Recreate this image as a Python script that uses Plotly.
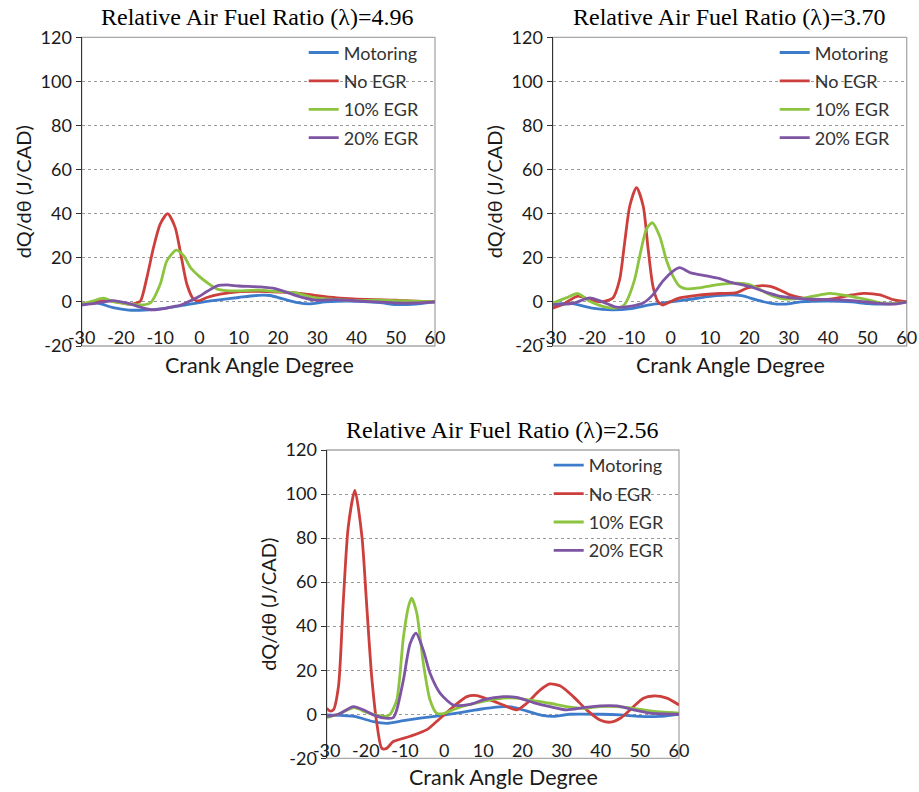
import plotly.graph_objects as go

W, H = 919, 792

SERIES = ["Motoring", "No EGR", "10% EGR", "20% EGR"]
COLORS = ["#3E7CCB", "#CC3F3C", "#8CC43F", "#7E55A5"]
TITLES = ["Relative Air Fuel Ratio (λ)=4.96",
          "Relative Air Fuel Ratio (λ)=3.70",
          "Relative Air Fuel Ratio (λ)=2.56"]
X_TICKS = [-30, -20, -10, 0, 10, 20, 30, 40, 50, 60]
X_TICK_LABELS = ["-30", "-20", "-10", "0", "10", "20", "30", "40", "50", "60"]
Y_TICKS = [-20, 0, 20, 40, 60, 80, 100, 120]
Y_TICK_LABELS = ["-20", "0", "20", "40", "60", "80", "100", "120"]

# ---- Panel 1 : lambda = 4.96 ----
P1_MOT_X = [-30, -26, -22, -18, -14, -10, -5, 0, 5, 10, 15, 18, 21, 25, 28, 32, 38, 46, 50, 55, 60]
P1_MOT_Y = [-1, -0.6, -2.6, -3.7, -3.7, -3.2, -1.8, -0.3, 0.9, 2.0, 3.0, 2.9, 1.5, -0.3, -0.9, 0, 0.4, -0.3, -1.2, -1, 0]
P1_NO_X = [-30, -27, -24, -21, -18, -16, -15, -13.4, -11.7, -10, -8.1, -6.2, -4.9, -3.2, -1.5, -0.2, 1.9, 5.3, 10.4, 15, 20, 25, 30, 35, 40, 45, 50, 55, 60]
P1_NO_Y = [-1, -0.2, 0.6, 0, -1, -0.5, 0.5, 11, 24.7, 35.3, 40, 33.8, 23, 8, 1.2, 0.5, 2, 3.5, 4.7, 4.8, 4.5, 4, 2.8, 1.8, 1.3, 1, 0.8, 0.3, 0]
P1_10_X = [-30, -27, -24.4, -22, -18.4, -15, -12.5, -10, -8.3, -5.9, -4, -2.3, -0.2, 1.9, 4.5, 7.8, 15, 19.3, 24.4, 29.5, 34.6, 40, 45, 50, 55, 60]
P1_10_Y = [-1, 0.5, 1.7, 0.1, -0.9, -1.4, -0.5, 8, 18.6, 23.5, 20.9, 15.6, 11.8, 8.8, 5.8, 5, 5.3, 4.8, 4.1, 1.8, 1.1, 0.6, 0.8, 0.6, 0.3, 0]
P1_20_X = [-30, -25.3, -22, -18.4, -15, -12, -9, -6.6, -4.9, -1.5, 0, 2, 4.5, 7, 10, 15.5, 19.3, 24.4, 29.5, 34.6, 40, 45, 50, 55, 60]
P1_20_Y = [-1.4, -0.3, 0.6, -0.6, -2.4, -3.6, -3, -2.1, -1.5, 1.2, 2.6, 4.8, 7.3, 7.7, 7.2, 6.8, 6, 3, 0.8, 1, 0.5, 0, -0.5, -0.5, 0]

# ---- Panel 2 : lambda = 3.70 ----
P2_MOT_X = [-30, -25, -20, -15, -10, -5, 0, 5, 10, 15, 18, 22, 26, 29, 33, 40, 46, 50, 55, 60]
P2_MOT_Y = [-1, -0.8, -2.8, -3.6, -3, -1.2, 0, 1.2, 2.5, 3.2, 2.8, 0.8, -0.8, -1, 0, 0.4, 0, -0.8, -1, 0]
P2_NO_X = [-30, -27.5, -23.6, -20.6, -18, -16.4, -14.7, -13, -11.7, -10.4, -8.7, -7, -5.8, -4.5, -3.2, -2, -0.2, 2.3, 6.6, 12.5, 16.8, 19.3, 22.7, 25.3, 28, 30.3, 33.7, 38, 42.2, 45.5, 49, 53.2, 56.6, 60]
P2_NO_Y = [-2.8, -1.2, 2.6, 1, 0, 0.5, 1.8, 10, 27, 43.5, 51.8, 43.5, 25, 7, 0, -1.4, 0, 1.8, 3, 3.8, 4.2, 6.2, 7.3, 7, 5.2, 3.2, 1.7, 1, 1.7, 3, 3.9, 3.2, 1, 0]
P2_10_X = [-30, -26.6, -23.6, -20.6, -17.3, -14.7, -12.2, -11.3, -9.2, -7.5, -6.2, -4.7, -2.8, -1.1, 0.6, 2.3, 4, 7.4, 12.5, 16.8, 20.2, 25.3, 28.6, 33.7, 38, 40.5, 44.7, 49, 54.9, 60]
P2_10_Y = [-0.5, 1.8, 3.8, 0.3, -2, -2.8, -2, 0, 10, 23.8, 32.9, 35.9, 29.8, 19, 11.6, 7, 5.9, 6.4, 7.9, 8.5, 7.7, 3.2, 1.4, 1.7, 3.2, 3.9, 2.9, 1.4, -0.9, 0]
P2_20_X = [-30, -24.9, -20.6, -17.3, -13.8, -10.4, -7, -4.5, -2, 0.6, 2.3, 4.9, 9.1, 12.5, 15, 20, 25, 28, 33, 40, 47, 52, 57, 60]
P2_20_Y = [-1.2, -0.7, 1.8, 0, -2.4, -2, -0.5, 3.3, 9.4, 14, 15.5, 13.3, 11.8, 10.6, 9, 7, 4, 2.5, 1.5, 1, 0.5, -0.5, -1, 0]

# ---- Panel 3 : lambda = 2.56 ----
P3_MOT_X = [-30, -23, -18, -14.7, -10.4, -6.1, -1.9, 2.4, 6.6, 10, 15, 18, 21, 25, 28, 32, 40, 45, 50, 55, 60]
P3_MOT_Y = [-0.3, -1, -3.4, -4.1, -2.9, -1.8, -0.8, 0.3, 1.5, 2.5, 3.5, 3, 1.5, -0.5, -1, 0, 0, -0.3, -1, -1, 0]
P3_NO_X = [-30, -29.2, -28.3, -27, -25.8, -24.5, -22.8, -21, -19.8, -18.5, -17.2, -15.9, -14.7, -13, -8.7, -4.4, -1, 2.4, 5.8, 8.3, 11.7, 15.1, 18.5, 21.1, 24.5, 27, 29.6, 33, 36.4, 39.8, 42.4, 45, 47.5, 50.9, 53.5, 56.9, 60]
P3_NO_Y = [2.7, 1.5, 2, 12.5, 50, 85, 101.6, 80.7, 50, 17, -4, -15.5, -15.5, -12.4, -10, -7, -1.8, 3.5, 8, 8.5, 6.5, 4.2, 2, 5, 11, 13.8, 12.9, 8, 2, -2.6, -3.6, -1.8, 2, 7.3, 8.3, 7.3, 4.2]
P3_10_X = [-30, -27, -23, -20, -18.1, -15, -13.8, -12.1, -10.4, -9.1, -8.3, -7, -5.3, -3.6, -1.9, -0.2, 3.2, 10, 15.1, 18.5, 22.8, 27, 31.3, 35.6, 39.8, 44.1, 48.4, 52.6, 60]
P3_10_Y = [-1.5, 0, 3, 1, 0, -1, 0, 6.5, 35, 49, 52.7, 46, 23, 6.5, 0.5, 0.3, 2.7, 5.8, 7.3, 7.3, 6.2, 5, 3.5, 2.7, 3.5, 3.5, 2.7, 1.5, 0.5]
P3_20_X = [-30, -27, -23.2, -20, -18.1, -15, -13, -12.1, -10.4, -8.7, -7.2, -5.3, -3.6, -1, 2.4, 6.6, 10, 15.1, 18.5, 22.8, 27, 31.3, 35.6, 39.8, 44.1, 48.4, 52.6, 60]
P3_20_Y = [-1, 0, 3.5, 1.5, -0.3, -1.8, -1.5, 2, 15.6, 32, 36.8, 29, 18.6, 9.5, 4.2, 4.5, 6.5, 8, 7.7, 5.3, 3.5, 2, 3, 3.8, 3.8, 2, 0.5, 0]

PANELS = [
    [(P1_MOT_X, P1_MOT_Y), (P1_NO_X, P1_NO_Y), (P1_10_X, P1_10_Y), (P1_20_X, P1_20_Y)],
    [(P2_MOT_X, P2_MOT_Y), (P2_NO_X, P2_NO_Y), (P2_10_X, P2_10_Y), (P2_20_X, P2_20_Y)],
    [(P3_MOT_X, P3_MOT_Y), (P3_NO_X, P3_NO_Y), (P3_10_X, P3_10_Y), (P3_20_X, P3_20_Y)],
]

# plot-area boxes in pixels: left, right, top, bottom
BOXES = [(81.7, 435.0, 37.3, 346.0), (552.7, 906.7, 37.3, 346.0), (326.7, 679.0, 450.0, 758.3)]
XMIN, XMAX, YMIN, YMAX = -30, 60, -20, 120

TICK_FONT = dict(family="Lato, Open Sans, sans-serif", size=18, color="#1a1a1a")
LEG_FONT = dict(family="Lato, Open Sans, sans-serif", size=18, color="#333333")

fig = go.Figure()
layout = dict(width=W, height=H, margin=dict(l=0, r=0, t=0, b=0, autoexpand=False),
              paper_bgcolor="white", plot_bgcolor="white", showlegend=True)
annotations = []
shapes = []

for i, (box, series) in enumerate(zip(BOXES, PANELS)):
    n = "" if i == 0 else str(i + 1)
    l, r, t, b = box
    xd = [l / W, r / W]
    yd = [1 - b / H, 1 - t / H]
    leg = "legend" if i == 0 else f"legend{i + 1}"
    for j, (name, color, (xs, ys)) in enumerate(zip(SERIES, COLORS, series)):
        fig.add_trace(go.Scatter(x=xs, y=ys, name=name, mode="lines",
                                 line=dict(color=color, width=2.8, shape="spline", smoothing=0.7),
                                 xaxis=f"x{n}", yaxis=f"y{n}", legend=leg,
                                 legendgroup=f"p{i}s{j}"))
    layout[f"xaxis{n}"] = dict(domain=xd, anchor=f"y{n}", range=[XMIN, XMAX],
                               tickvals=X_TICKS, ticktext=X_TICK_LABELS,
                               showgrid=False, zeroline=False, showline=False, ticks="",
                               ticklabelposition="inside", ticklabeloverflow="allow",
                               ticklabelstandoff=-5,
                               tickfont=TICK_FONT, automargin=False)
    layout[f"yaxis{n}"] = dict(domain=yd, anchor=f"x{n}", range=[YMIN, YMAX],
                               tickvals=Y_TICKS, ticktext=Y_TICK_LABELS,
                               showgrid=True, gridcolor="#9a9a9a", griddash="dot", gridwidth=1,
                               zeroline=False, showline=True, linecolor="#333333", linewidth=1.3,
                               ticks="outside", ticklen=5, tickcolor="#333333",
                               tickfont=TICK_FONT, automargin=False)
    # overlay axis drawing the horizontal axis line at y = 0 with its tick marks
    k = i + 4
    zero_frac = yd[0] + (0 - YMIN) / (YMAX - YMIN) * (yd[1] - yd[0])
    layout[f"xaxis{k}"] = dict(domain=xd, overlaying=f"x{n}", anchor="free", position=zero_frac,
                               range=[XMIN, XMAX], tickvals=X_TICKS, showticklabels=False,
                               showgrid=False, zeroline=False, showline=True, linecolor="#a0a0a0",
                               linewidth=1.3, ticks="outside", ticklen=5, tickcolor="#a0a0a0",
                               automargin=False)
    # light frame around plot area
    shapes.append(dict(type="rect", xref=f"x{n} domain", yref=f"y{n} domain", x0=0, x1=1, y0=0, y1=1,
                       line=dict(color="#a8a8a8", width=1.3), layer="below"))
    cx = (l + r) / 2
    annotations.append(dict(text=TITLES[i], x=(cx - 1) / W, y=1 - (t - 20) / H, xref="paper", yref="paper",
                            showarrow=False, xanchor="center", yanchor="middle",
                            font=dict(family="Liberation Serif, Times New Roman, serif", size=24, color="black")))
    annotations.append(dict(text="Crank Angle Degree", x=(cx + 1) / W, y=1 - (b + 19) / H, xref="paper", yref="paper",
                            showarrow=False, xanchor="center", yanchor="middle",
                            font=dict(family="Lato, Open Sans, sans-serif", size=21.5, color="#1a1a1a")))
    annotations.append(dict(text="dQ/dθ (J/CAD)", x=(l - 59) / W, y=1 - ((t + b) / 2) / H, xref="paper", yref="paper",
                            showarrow=False, xanchor="center", yanchor="middle", textangle=-90,
                            font=dict(family="Lato, Open Sans, sans-serif", size=20, color="#1a1a1a")))
    layout[leg] = dict(x=(l + 222) / W, y=1 - (t - 3) / H, xanchor="left", yanchor="top",
                       bgcolor="rgba(0,0,0,0)", borderwidth=0, font=LEG_FONT,
                       tracegroupgap=2)

layout["annotations"] = annotations
layout["shapes"] = shapes
fig.update_layout(**layout)
fig.write_html("out.html")
